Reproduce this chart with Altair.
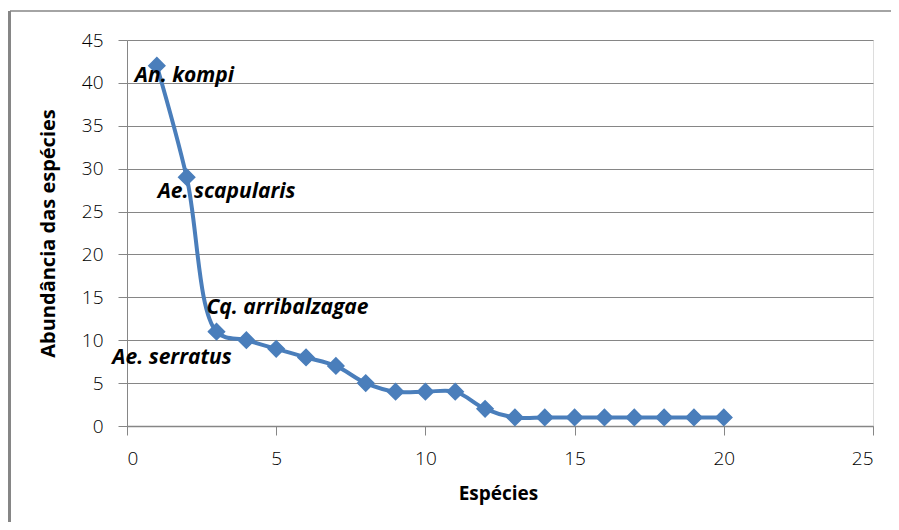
import altair as alt
import pandas as pd

species_rank = list(range(1, 21))
abundance = [42, 29, 11, 10, 9, 8, 7, 5, 4, 4, 4, 2, 1, 1, 1, 1, 1, 1, 1, 1]

label_names = ["An. kompi", "Ae. scapularis", "Cq. arribalzagae", "Ae. serratus"]
label_rank = [1, 2, 3, 4]
label_abund = [42, 29, 11, 10]
label_dx = [-22, -29, -10, -134]
label_dy = [10, 15, -24, 18]

BLUE = "#4a7ebb"
GRAY = "#868686"
FONT = "Open Sans"

df = pd.DataFrame({"x": species_rank, "y": abundance})

W, H = 746, 386

xs = alt.Scale(domain=[0, 25], nice=False, zero=True)
ys = alt.Scale(domain=[0, 45], nice=False)

base = alt.Chart(df)

line = base.mark_line(color=BLUE, strokeWidth=4, interpolate="catmull-rom").encode(
    x=alt.X("x:Q", scale=xs, axis=alt.Axis(
        title="Espécies", values=[0, 5, 10, 15, 20, 25], grid=False,
        domainColor=GRAY, tickColor=GRAY, tickSize=9, domainWidth=1.5,
        labelFont=FONT, labelFontSize=19, labelColor="#000", labelPadding=14,
        labelFontWeight=300,
        titleFont=FONT, titleFontSize=19, titleFontWeight="bold", titleColor="#000",
        titleX=371, titleY=67, titleBaseline="middle")),
    y=alt.Y("y:Q", scale=ys, axis=alt.Axis(
        title="Abundância das espécies", values=list(range(0, 50, 5)),
        gridColor=GRAY, gridWidth=1, gridOpacity=1,
        domainColor=GRAY, tickColor=GRAY, tickSize=9,
        labelFont=FONT, labelFontSize=19, labelColor="#000", labelPadding=15,
        labelFontWeight=300,
        titleFont=FONT, titleFontSize=20, titleFontWeight="bold", titleColor="#000",
        titleX=-79, titleY=193, titleBaseline="middle", titleAngle=-90)),
)

points = base.mark_point(shape="diamond", filled=True, size=260, color=BLUE, opacity=1,
                         stroke=BLUE, strokeWidth=1.5).encode(
    x=alt.X("x:Q", scale=xs), y=alt.Y("y:Q", scale=ys))

layers = [line, points]
for name, r, a, dx, dy in zip(label_names, label_rank, label_abund, label_dx, label_dy):
    ldf = pd.DataFrame({"x": [r], "y": [a], "t": [name]})
    layers.append(alt.Chart(ldf).mark_text(
        align="left", baseline="middle", font=FONT, fontSize=21, fontStyle="italic",
        fontWeight="bold", color="#000", dx=dx, dy=dy).encode(
        x=alt.X("x:Q", scale=xs), y=alt.Y("y:Q", scale=ys), text="t:N"))

frame_top = alt.Chart(pd.DataFrame({"a": [0]})).mark_rule(color=GRAY, strokeWidth=1.5).encode(
    x=alt.value(-117), x2=alt.value(900), y=alt.value(-29))
frame_left = alt.Chart(pd.DataFrame({"a": [0]})).mark_rule(color=GRAY, strokeWidth=3).encode(
    x=alt.value(-117.5), y=alt.value(-29), y2=alt.value(500))

chart = alt.layer(frame_top, frame_left, *layers).properties(
    width=W, height=H,
    autosize=alt.AutoSizeParams(type="none"),
    padding={"left": 119, "top": 32, "right": 18, "bottom": 96},
).configure_view(stroke=None).configure(background="white")

chart.save("out.html", embed_options={"renderer": "svg", "actions": False})
